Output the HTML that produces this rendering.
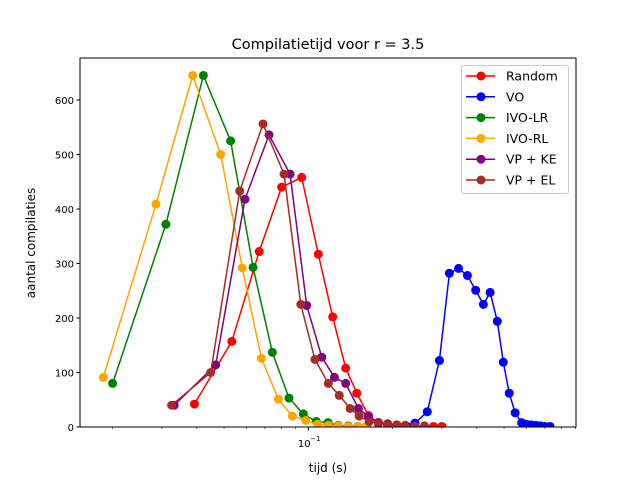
<!DOCTYPE html>
<html><head><meta charset="utf-8"><style>
body{margin:0;background:#fff}
svg text{font-family:"DejaVu Sans","Liberation Sans",sans-serif;fill:#000}
</style></head><body>
<svg id="chart" width="640" height="480" xmlns="http://www.w3.org/2000/svg">
<rect x="0" y="0" width="640" height="480" fill="#fff"/>
<g id="plot"></g>
<g id="axes"></g>
<text x="328" y="49" font-size="14.5" text-anchor="middle">Compilatietijd voor r = 3.5</text>
<text x="328" y="472" font-size="12" text-anchor="middle">tijd (s)</text>
<text x="0" y="0" font-size="12" text-anchor="middle" transform="translate(35,243) rotate(-90)">aantal compilaties</text>
<g id="legend"></g>
</svg>
<script>
const seriesNames = ["Random","VO","IVO-LR","IVO-RL","VP + KE","VP + EL"];
const seriesColors = ["#ff0000","#0000ff","#008000","#ffa500","#800080","#a52a2a"];
const randomX = [0.0392,0.0533,0.0668,0.0803,0.0947,0.1086,0.1222,0.136,0.149,0.164,0.178,0.192,0.207,0.222,0.24,0.26,0.28,0.30];
const randomY = [42,157,322,440,458,317,202,108,62,21,8,6,4,3,2,2,1,1];
const voX = [0.21,0.225,0.2404,0.266,0.294,0.319,0.344,0.370,0.396,0.422,0.446,0.473,0.497,0.522,0.548,0.578,0.60,0.625,0.65,0.675,0.70,0.73];
const voY = [0,1,7,28,122,282,291,278,251,225,247,194,119,62,26,8,5,4,3,2,1,1];
const ivolrX = [0.0200,0.0310,0.0422,0.0528,0.0635,0.0744,0.0853,0.0960,0.1068,0.1176,0.128,0.139,0.150,0.161];
const ivolrY = [80,372,645,525,293,137,53,24,10,8,3,2,1,1];
const ivorlX = [0.01853,0.02858,0.03865,0.04864,0.0581,0.0680,0.0782,0.0877,0.0979,0.108,0.118,0.128,0.139,0.150,0.16];
const ivorlY = [91,409,645,500,292,126,51,20,12,5,3,2,1,1,0];
const vpkeX = [0.0332,0.0467,0.0594,0.0724,0.0861,0.0987,0.1117,0.124,0.136,0.151,0.164,0.178,0.192,0.207,0.222,0.24,0.26];
const vpkeY = [40,114,418,536,464,223,128,91,80,34,19,8,5,3,2,1,1];
const vpelX = [0.0325,0.0448,0.0569,0.0689,0.0819,0.0940,0.1056,0.1179,0.129,0.141,0.152,0.165,0.178,0.192,0.207,0.222,0.24,0.26];
const vpelY = [40,100,433,556,464,225,124,80,58,34,20,10,6,4,3,2,1,1];
const yTicks = [0,100,200,300,400,500,600];
const allX = [randomX,voX,ivolrX,ivorlX,vpkeX,vpelX];
const allY = [randomY,voY,ivolrY,ivorlY,vpkeY,vpelY];

const L=80,R=576,T=58,B=427;
const xs = v => 308.3 + 280*Math.log10(v/0.1);
const ys = v => 427 - 0.545*v;
const NS="http://www.w3.org/2000/svg";
function mk(tag,attrs,parent){const e=document.createElementNS(NS,tag);for(const k in attrs)e.setAttribute(k,attrs[k]);parent.appendChild(e);return e;}
const plot=document.getElementById('plot'), axes=document.getElementById('axes'), legend=document.getElementById('legend');
const clip=mk('clipPath',{id:'clp'},plot); mk('rect',{x:L,y:T,width:R-L,height:B-T},clip);
const g=mk('g',{'clip-path':'url(#clp)'},plot);
for(let s=0;s<allX.length;s++){
  const pts=allX[s].map((x,i)=>xs(x).toFixed(1)+','+ys(allY[s][i]).toFixed(1)).join(' ');
  const pl=mk('polyline',{points:pts,fill:'none',stroke:seriesColors[s],'stroke-width':1.5},g);
  
  
  allX[s].forEach((x,i)=>{
    const c=mk('circle',{cx:xs(x),cy:ys(allY[s][i]),r:4.5,fill:seriesColors[s]},g);
    
    
  });
}
const frame=mk('rect',{x:L,y:T,width:R-L,height:B-T,fill:'none',stroke:'#000','stroke-width':1},axes);


yTicks.forEach(v=>{
  mk('line',{x1:L-3.5,x2:L,y1:ys(v),y2:ys(v),stroke:'#000'},axes);
  const t=mk('text',{x:L-6,y:ys(v)+4,'font-size':10,'text-anchor':'end'},axes);
  t.textContent=v;
  
  
});
[0.02,0.03,0.04,0.05,0.06,0.07,0.08,0.09,0.2,0.3,0.4,0.5,0.6,0.7,0.8,0.9].forEach(v=>{
  const x=xs(v); if(x<L||x>R+0.6)return;
  mk('line',{x1:x,x2:x,y1:B,y2:B+2,stroke:'#000','stroke-width':0.6},axes);
});
mk('line',{x1:xs(0.1),x2:xs(0.1),y1:B,y2:B+3.5,stroke:'#000'},axes);
const xt=mk('text',{x:xs(0.1)-4,y:B+20,'font-size':10,'text-anchor':'middle'},axes);
xt.textContent='10';


const xe=mk('text',{x:xs(0.1)+7,y:B+14,'font-size':7,'text-anchor':'middle'},axes);
xe.textContent='\u22121';


const lb=mk('rect',{x:461.5,y:65.5,width:107,height:128,rx:2,fill:'#fff','fill-opacity':0.8,stroke:'#ccc'},legend);


seriesNames.forEach((n,i)=>{
  const y=76+i*20.8;
  const e=mk('g',{},legend);
  
  
  mk('line',{x1:466,x2:495,y1:y,y2:y,stroke:seriesColors[i],'stroke-width':1.5},e);
  mk('circle',{cx:481,cy:y,r:4.5,fill:seriesColors[i]},e);
  const t=mk('text',{x:506,y:y+4.5,'font-size':12.5},e);
  t.textContent=n;
});
</script>
</body></html>
